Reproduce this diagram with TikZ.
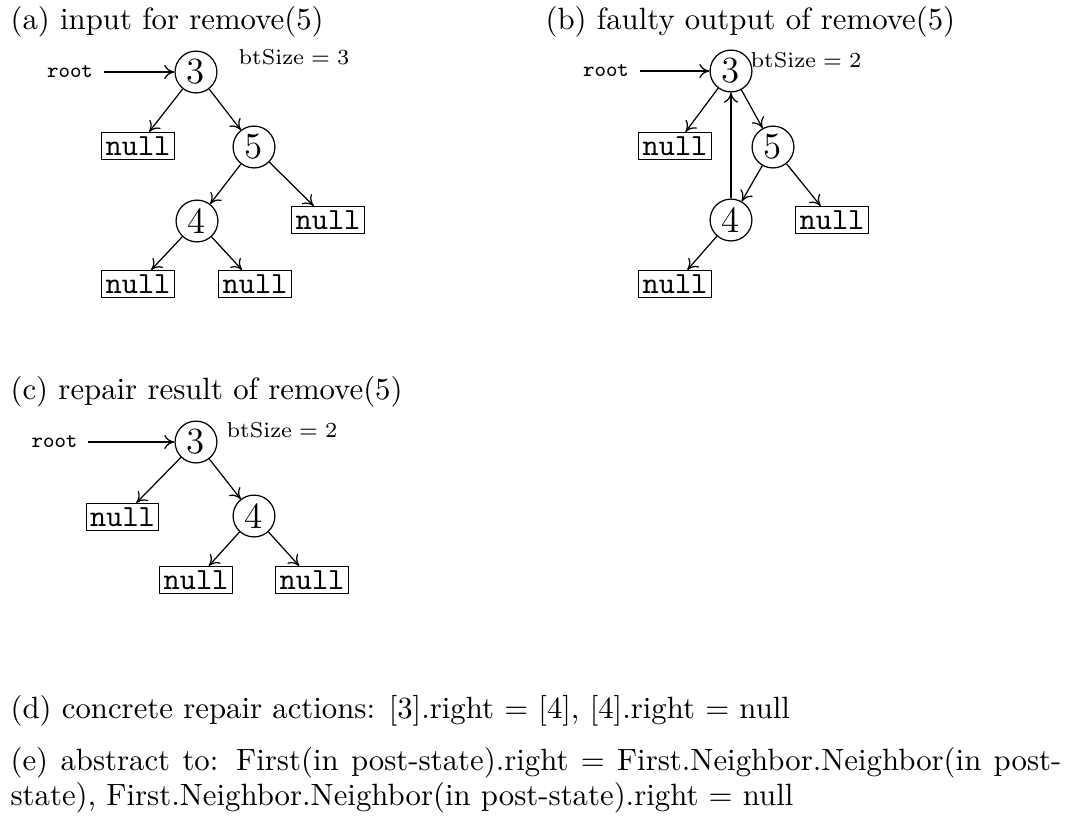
\documentclass[tikz,border=0pt]{standalone}
\usetikzlibrary{arrows.meta}
\begin{document}
\begin{tikzpicture}[x=0.325pt,y=-0.325pt,
  num/.style={circle,draw,minimum size=13.6pt,inner sep=0pt,font=\large},
  nil/.style={draw,inner sep=1.3pt,font=\ttfamily},
  lbl/.style={font=\scriptsize\ttfamily},
  sz/.style={font=\fontsize{7.5}{9}\selectfont,inner sep=0pt},
  heading/.style={anchor=base west,inner sep=0pt},
  link/.style={-{To[length=3.3pt,width=4.6pt]},line width=0.4pt}]
\useasboundingbox (0,0) rectangle (1068,821);

% (a) input tree
\node[heading] (ta) at (10,29) {(a) input for remove(5)};
\node[num] (a3) at (196,72) {3};
\node[lbl] (ar) at (70,72) {root};
\node[sz] (as) at (294,57) {$\mathrm{btSize}=3$};
\node[nil] (an1) at (138,146) {null};
\node[num] (a5) at (254,147) {5};
\node[num] (a4) at (197,221) {4};
\node[nil] (an2) at (328,220) {null};
\node[nil] (an3) at (138,284) {null};
\node[nil] (an4) at (255,284) {null};
\draw[link] (ar) -- (a3);
\draw[link] (a3) -- (an1);
\draw[link] (a3) -- (a5);
\draw[link] (a5) -- (a4);
\draw[link] (a5) -- (an2);
\draw[link] (a4) -- (an3);
\draw[link] (a4) -- (an4);

% (b) faulty output
\node[heading] (tb) at (545,29) {(b) faulty output of remove(5)};
\node[num] (b3) at (731,71) {3};
\node[lbl] (br) at (606,71) {root};
\node[sz] (bs) at (806,60) {$\mathrm{btSize}=2$};
\node[nil] (bn1) at (675,146) {null};
\node[num] (b5) at (773,147) {5};
\node[num] (b4) at (731,220) {4};
\node[nil] (bn2) at (832,220) {null};
\node[nil] (bn3) at (675,284) {null};
\draw[link] (br) -- (b3);
\draw[link] (b3) -- (bn1);
\draw[link] (b3) -- (b5);
\draw[link] (b5) -- (b4);
\draw[link] (b5) -- (bn2);
\draw[link] (b4) -- (bn3);
\draw[link] (b4) -- (b3);

% (c) repaired tree
\node[heading] (tc) at (10,399) {(c) repair result of remove(5)};
\node[num] (c3) at (196,442) {3};
\node[lbl] (cr) at (54.5,442) {root};
\node[sz] (cs) at (282,430) {$\mathrm{btSize}=2$};
\node[nil] (cn1) at (122.5,517) {null};
\node[num] (c4) at (254,516) {4};
\node[nil] (cn2) at (196,580) {null};
\node[nil] (cn3) at (312,580) {null};
\draw[link] (cr) -- (c3);
\draw[link] (c3) -- (cn1);
\draw[link] (c3) -- (c4);
\draw[link] (c4) -- (cn2);
\draw[link] (c4) -- (cn3);

% (d) and (e) text
\node[heading] (td) at (10,718) {(d) concrete repair actions: [3].right = [4], [4].right = null};
\node[heading] (te1) at (10,770) {\makebox[341.5pt][s]{(e) abstract to: First(in post-state).right = First.Neighbor.Neighbor(in post-}};
\node[heading] (te2) at (10,805) {state), First.Neighbor.Neighbor(in post-state).right = null};
\end{tikzpicture}
\end{document}
